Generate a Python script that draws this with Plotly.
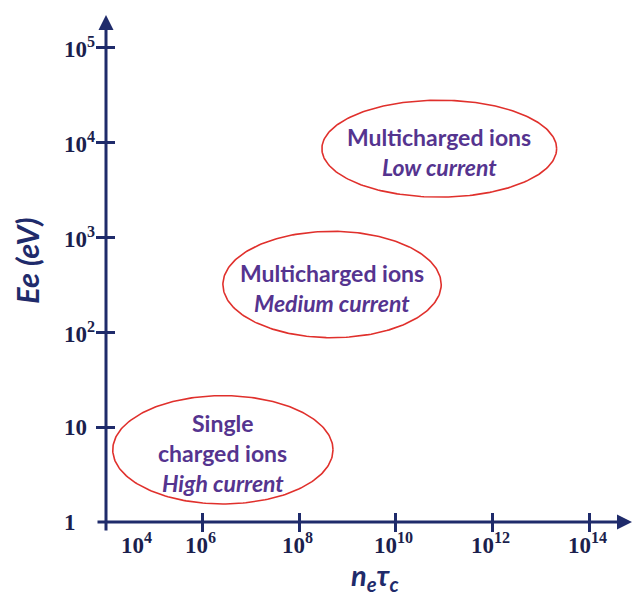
import numpy as np
import plotly.graph_objects as go

# Operating regimes in the (n_e*tau_c, Ee) plane, positions in decades
region_lines = [
    ["Single", "charged ions", "<i>High current</i>"],
    ["Multicharged ions", "<i>Medium current</i>"],
    ["Multicharged ions", "<i>Low current</i>"],
]
region_cx = [6.42, 8.68, 10.90]   # log10(n_e tau_c) at centre
region_cy = [0.76, 2.50, 3.93]    # log10(Ee) at centre
region_rx = [2.28, 2.26, 2.43]    # half-width, decades
region_ry = [0.57, 0.56, 0.51]    # half-height, decades

# Axis ticks
x_tick_exp = [4, 6, 8, 10, 12, 14]
y_tick_exp = [0, 1, 2, 3, 4, 5]
y_tick_text = ["1", "10", "10<sup>2</sup>", "10<sup>3</sup>", "10<sup>4</sup>", "10<sup>5</sup>"]
x_tick_text = ["10<sup>%d</sup>" % e for e in x_tick_exp]

X_RANGE = [4, 14.89]
Y_RANGE = [0, 5.337]

NAVY = "#1f2b6b"
LABEL_NAVY = "#1b1f4d"
RED = "#e0302c"
PURPLE = "#55348f"
SANS = "Lato, 'Open Sans', sans-serif"
SERIF = "'Liberation Serif', 'Times New Roman', serif"

fig = go.Figure()

t = np.linspace(0, 2 * np.pi, 241)
for cx, cy, rx, ry in zip(region_cx, region_cy, region_rx, region_ry):
    fig.add_trace(go.Scatter(
        x=10 ** (cx + rx * np.cos(t)),
        y=10 ** (cy + ry * np.sin(t)),
        mode="lines", fill="toself", fillcolor="white",
        line=dict(color=RED, width=1.6),
        hoverinfo="skip", showlegend=False,
    ))

# invisible trace so the overlay axes (inner half of the ticks) are drawn
fig.add_trace(go.Scatter(x=[1e5], y=[10], xaxis="x2", yaxis="y2",
                         mode="markers", marker=dict(opacity=0),
                         hoverinfo="skip", showlegend=False))

tick_style = dict(ticklen=9, tickwidth=3, tickcolor=NAVY,
                  showticklabels=False, showgrid=False, zeroline=False,
                  showline=False)

fig.update_layout(
    width=634, height=596,
    margin=dict(l=106, r=2, t=15, b=74),
    paper_bgcolor="white", plot_bgcolor="white",
    xaxis=dict(type="log", range=X_RANGE, ticks="outside",
               tickvals=[10 ** e for e in x_tick_exp[1:]], **tick_style),
    yaxis=dict(type="log", range=Y_RANGE, ticks="outside",
               tickvals=[10 ** e for e in y_tick_exp[1:]], **tick_style),
    xaxis2=dict(type="log", range=X_RANGE, overlaying="x", anchor="y",
                side="bottom", ticks="inside",
                tickvals=[10 ** e for e in x_tick_exp[1:]], **tick_style),
    yaxis2=dict(type="log", range=Y_RANGE, overlaying="y", anchor="x",
                side="left", ticks="inside",
                tickvals=[10 ** e for e in y_tick_exp[1:]], **tick_style),
)

annotations = []

# axis lines with arrow heads
annotations.append(dict(xref="x domain", yref="y domain", x=1, y=0,
                        ax=-536, ay=0, axref="pixel", ayref="pixel",
                        showarrow=True, arrowhead=2, arrowsize=1,
                        arrowwidth=3, arrowcolor=NAVY, text=""))
annotations.append(dict(xref="x domain", yref="y domain", x=0, y=1,
                        ax=0, ay=517, axref="pixel", ayref="pixel",
                        showarrow=True, arrowhead=2, arrowsize=1,
                        arrowwidth=3, arrowcolor=NAVY, text=""))

# tick labels
label_font = dict(family=SERIF, size=23, color=LABEL_NAVY, weight="bold")
for e, txt in zip(y_tick_exp, y_tick_text):
    annotations.append(dict(xref="x domain", yref="y", x=0, y=e,
                            xanchor="left", yanchor="middle", xshift=-44,
                            text=txt, showarrow=False, font=label_font))
for e, txt in zip(x_tick_exp, x_tick_text):
    annotations.append(dict(xref="x", yref="y domain", x=e, y=0,
                            xanchor="center", yanchor="top",
                            xshift=30 if e == x_tick_exp[0] else -2, yshift=-5,
                            text=txt, showarrow=False, font=label_font))

# region labels
line_gap = 30
for lines, cx, cy in zip(region_lines, region_cx, region_cy):
    n = len(lines)
    for i, ln in enumerate(lines):
        off = ((n - 1) / 2 - i) * line_gap - 3
        annotations.append(dict(xref="x", yref="y", x=cx, y=cy,
                                yshift=off, text="<b>%s</b>" % ln,
                                showarrow=False,
                                font=dict(family=SANS, size=23, color=PURPLE)))

# axis titles
annotations.append(dict(xref="paper", yref="paper", x=0, y=0.515,
                        xshift=-79, xanchor="center", yanchor="middle",
                        textangle=-90, showarrow=False,
                        text="<b><i>Ee (eV)</i></b>",
                        font=dict(family=SANS, size=31, color=NAVY)))
annotations.append(dict(xref="paper", yref="paper", x=0.511, y=0,
                        yshift=-54, yanchor="middle", showarrow=False,
                        text="<b><i>n<sub>e</sub>τ<sub>c</sub></i></b>",
                        font=dict(family=SANS, size=29, color=NAVY)))

fig.update_layout(annotations=annotations)

fig.write_html("out.html")
